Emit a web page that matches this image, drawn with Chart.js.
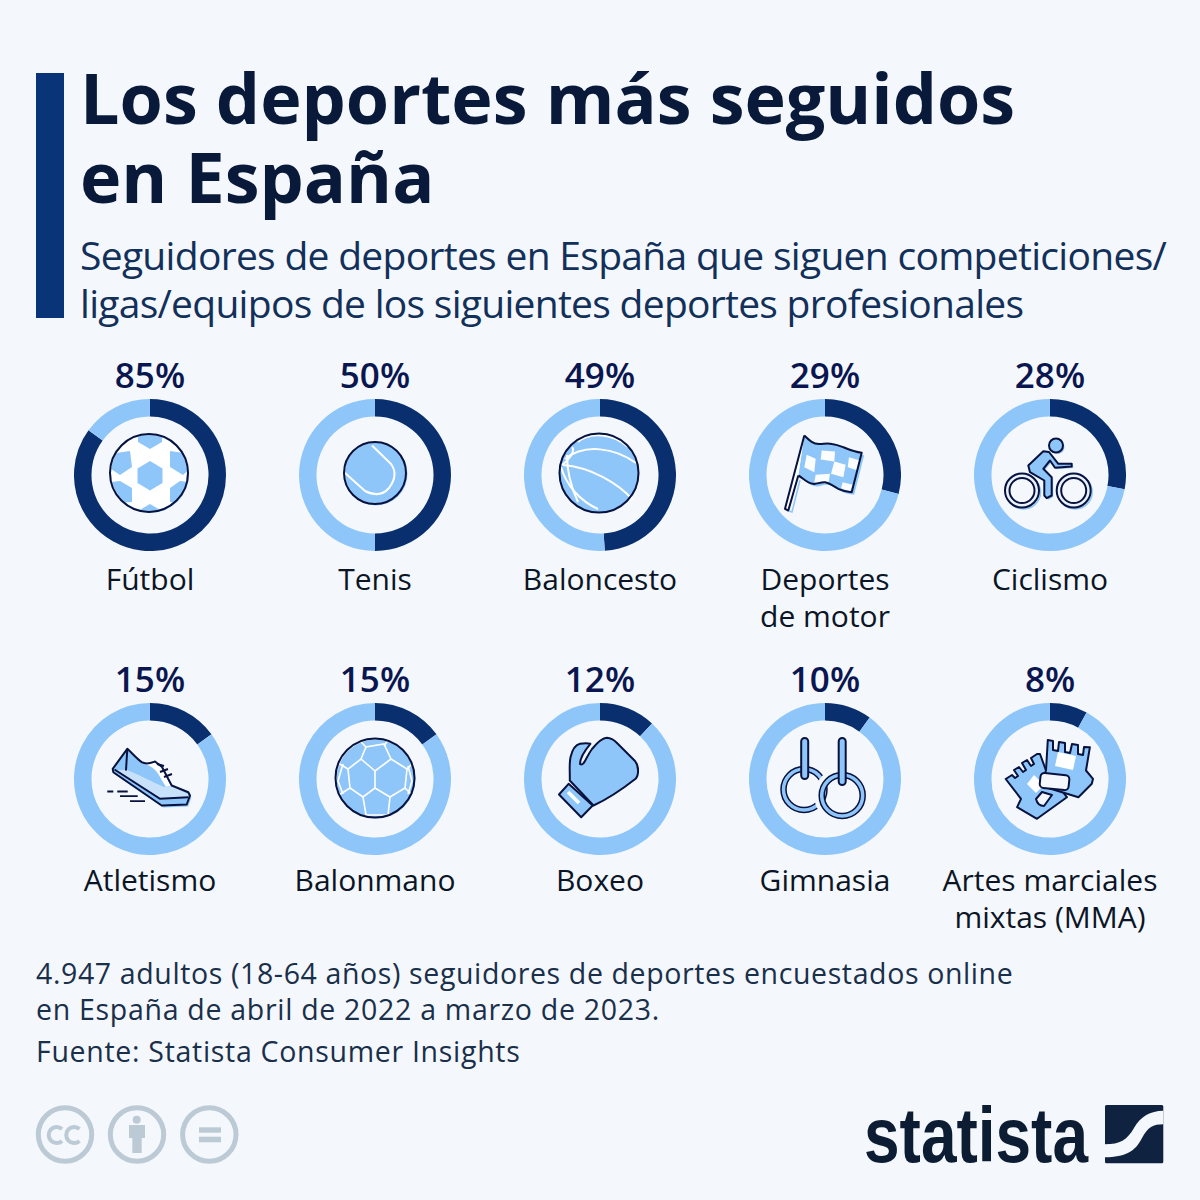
<!DOCTYPE html>
<html lang="es"><head><meta charset="utf-8">
<script src="https://cdn.jsdelivr.net/npm/chart.js@4"></script>
<style>
html,body{margin:0;padding:0;background:#f4f8fc}
#page{position:relative;width:1200px;height:1200px;overflow:hidden;background:#f4f8fc;font-family:"Open Sans",sans-serif}
.t{position:absolute;white-space:nowrap}
.c{position:absolute;text-align:center;width:224px;white-space:nowrap}
canvas{position:absolute}
svg{position:absolute;overflow:visible}
</style></head><body><div id="page"></div>
<script>
const categories=["Fútbol","Tenis","Baloncesto","Deportes\nde motor","Ciclismo","Atletismo","Balonmano","Boxeo","Gimnasia","Artes marciales\nmixtas (MMA)"];
const shares=[85,50,49,29,28,15,15,12,10,8];
const colX=[150,375,600,825,1050];
const rowY=[474.5,778.5];
const DARK="#0a2f6e",LIGHT="#8fc6f9",INK="#08123f",BG="#f4f8fc";
const page=document.getElementById('page');
function txt(s,x,y,size,weight,color,ls){const d=document.createElement('div');d.className='t';d.textContent=s;
 d.style.cssText+=`left:${x}px;top:${y+size*0.1}px;font-size:${size}px;line-height:${size*1.1}px;font-weight:${weight};color:${color};letter-spacing:${ls||0}px`;page.appendChild(d);return d}
const bar=document.createElement('div');bar.style.cssText='position:absolute;left:36px;top:73px;width:28px;height:245px;background:#0a3478';page.appendChild(bar);
txt("Los deportes más seguidos",80,52,70,700,"#08193a",0);
txt("en España",80,131,70,700,"#08193a",0);
txt("Seguidores de deportes en España que siguen competiciones/",80,229.7,39,400,"#12305a",-0.7);
txt("ligas/equipos de los siguientes deportes profesionales",80,277.7,39,400,"#12305a",-0.72);
txt("4.947 adultos (18-64 años) seguidores de deportes encuestados online",36,955.3,28.5,400,"#1a2f4a",0.62);
txt("en España de abril de 2022 a marzo de 2023.",36,991.3,28.5,400,"#1a2f4a",0.7);
txt("Fuente: Statista Consumer Insights",36,1033.3,28.5,400,"#1a2f4a",0.7);

const shoeP="M-22.7 -30.2C-18 -26 -13 -20 -8.3 -16.8C-3 -14 1 -16 5 -17.5L12 -12L21.7 6.5L38.3 13.2L40 16.5L36.7 25.5L11.7 26.5L-36.7 -6.8L-37.3 -10.2Z";
const flagP="M-20.7 -39.5C-15 -34 -12 -31 -6 -31C-1 -31 3 -32 7 -31C13 -30 15 -29 19 -27.5C25 -25 30 -23 36.7 -22.2L26.7 17.2C21 17 17 15.5 13.3 13.8C8 11 5 8 0 7.2C-5 6.8 -8 9.5 -12 8.8C-18 8 -22 3 -26.7 0.5";
const bodyP="M-6.7 -23.8L-1 -23L8.3 -11.2L21.7 -11.2L21.7 -8.5L5 -7.2L0 -14.5L-6.7 -6.2L1.7 2.2V20.5L-3.3 23.2L-5.7 20.5V5.5L-20 -2.8L-21.7 -9.5Z";
const icons=[
`<defs><clipPath id="b0"><circle cx="-1" cy="-2" r="38"/></clipPath></defs><circle cx="0" cy="-1" r="39" fill="${LIGHT}"/><circle cx="-1" cy="-2" r="38" fill="#fff"/><g clip-path="url(#b0)" fill="${LIGHT}"><path d="M0 -14L12.5 -6.5V8L0 15.5L-12.5 8V-6.5Z"/><path d="M-12 -40H12L12 -33L0 -26L-12 -33Z"/><path d="M-12 36L0 29L12 36V44H-12Z"/><path d="M-40 -21L-20 -24L-18 -8L-30 0L-42 -8Z"/><path d="M20 -24L40 -21L42 -8L33 0L20 -8Z"/><path d="M-40 7L-30 6L-18 13V27L-32 28Z"/><path d="M20 13L30 6L40 7L36 28L20 27Z"/></g><circle cx="-1" cy="-2" r="39" fill="none" stroke="${INK}" stroke-width="2"/>`,
`<circle cx="1" cy="-1" r="31.5" fill="${LIGHT}"/><path d="M-3 -29.5L16 -11C22 -3 20 5 14 13C8 20 0 21 -10 16L-30 -2" fill="none" stroke="#fff" stroke-width="2"/><circle cx="0" cy="-2" r="31" fill="none" stroke="${INK}" stroke-width="2"/>`,
`<circle cx="-1" cy="-2" r="39.5" fill="${LIGHT}"/><g fill="none" stroke="#fff" stroke-width="2"><path d="M-22 -33C-10 -44 14 -41 28 -28"/><path d="M-35 -16C-15 -32 15 -27 36 -12"/><path d="M-37 -10C-10 -8 18 8 33 25"/><path d="M-39 -8C-34 10 -20 26 -2 34"/><path d="M-33 -20C-33 -6 -30 10 -22 27"/><path d="M-28 -28C-24 -24 -32 -14 -38 -10"/></g><circle cx="-1" cy="-2" r="39.5" fill="none" stroke="${INK}" stroke-width="2"/>`,
`<path d="${flagP}Z" fill="${LIGHT}" transform="translate(2.5 2.5)"/><path d="${flagP}Z" fill="${LIGHT}"/>
<g fill="#fbfdff"><path d="M-18.3 -20.2L-9.3 -16.2L-10.7 -2.8L-20.7 -7.8Z"/><path d="M-3.3 -24.5L10 -23.5L9.3 -13.5L-4.3 -15.5Z"/><path d="M9.3 -13.5L20.7 -10.2L18.3 2.2L6 -1.2Z"/><path d="M24 -17.8L35 -14.5L32.7 -4.5L22.7 -7.8Z"/><path d="M-9.3 -0.2L5 -1.2L3.3 8.8L-10.7 7.2Z"/><path d="M17.7 7.2L27.7 9.8L25 16.5L16 13.2Z"/></g>
<path d="${flagP}" fill="none" stroke="${INK}" stroke-width="2" stroke-linejoin="round"/><path d="M-20.7 -39.5L-40 33.8L-36.7 35.5L-26.7 0.5" fill="#fff" stroke="${INK}" stroke-width="2" stroke-linejoin="round"/><path d="M-36 36L-33 37L-25 5" fill="none" stroke="${LIGHT}" stroke-width="1.5"/>`,
`<g fill="#cfe5fb" stroke="${LIGHT}" stroke-width="1.5" transform="translate(1.5 1.5)"><circle cx="-28" cy="15.5" r="17"/><circle cx="23.7" cy="15.5" r="17"/></g><path d="${bodyP}" fill="${LIGHT}" transform="translate(1.5 1.5)"/><circle cx="7.5" cy="-28" r="7" fill="${LIGHT}"/><g fill="${LIGHT}" stroke="${INK}" stroke-width="2" stroke-linejoin="round"><circle cx="6" cy="-29.5" r="7"/><path d="${bodyP}"/></g><g fill="#eaf3fc" stroke="${INK}" stroke-width="2"><circle cx="-28" cy="15.5" r="17"/><circle cx="23.7" cy="15.5" r="17"/></g><g fill="${BG}" stroke="${INK}" stroke-width="2"><circle cx="-28" cy="15.5" r="12.5"/><circle cx="23.7" cy="15.5" r="12.5"/></g>`,
`<path d="${shoeP}" fill="${LIGHT}" transform="translate(1.5 2)"/><path d="${shoeP}" fill="${LIGHT}"/><path d="M5 -17L12 -12L21.7 6.5L16 8L10 -2C7 -8 2 -13 -5 -15Z" fill="#fff"/><path d="M-35 -9L10 19.8L38 18L38 15L22 7L14 8C0 2 -10 -4 -23 -9Z" fill="#c7e1fb"/><path d="${shoeP}" fill="none" stroke="${INK}" stroke-width="2" stroke-linejoin="round"/><g fill="none" stroke="${INK}" stroke-width="2"><path d="M-35.5 -9.5L10 19.8L38.3 18.2"/><path d="M-22.7 -30.2L-24 -8.5"/><path d="M7 -15L14 -13M10 -7L18 -10M14 -2L22 -5"/></g><g stroke="${INK}" stroke-width="1.8"><path d="M-42.7 12.5H-36.7M-32.7 12.5H-22.3M-30 17.2H-12.3M-20 22.2H-5"/></g>`,
`<circle cx="1" cy="0" r="39.5" fill="${LIGHT}"/><g fill="none" stroke="#fff" stroke-width="1.6"><path d="M0 -8L-14 -20L-27 -10L-25 9L-12 18L0 9L15 18L30 9L32 -10L16 -20Z"/><path d="M0 -8V9"/><path d="M-14 -20L-9 -32L9 -35L16 -20"/><path d="M-9 -32L-15 -38M9 -33L13 -39"/><path d="M-27 -10L-37 -16M32 -10L38 -16M-25 9L-36 16M30 9L37 16"/><path d="M-12 18L-9 36H13L15 18"/><path d="M-32 -15L-37 2L-32 15M33 -13L37 2L33 15M-9 36L-14 40M13 36L17 40"/></g><circle cx="0" cy="-1" r="39.5" fill="none" stroke="${INK}" stroke-width="2"/>`,
`<path d="M-31.4 4.8L-7.3 26.5L-18.8 38.2L-41 15.5Z" fill="${LIGHT}" stroke="${INK}" stroke-width="2" stroke-linejoin="round"/><path d="M-32 13L-21 24" stroke="#fff" stroke-width="3.5"/><path d="M6.9 -41.2C11 -41 14 -39 17 -36L35 -18C39 -13 39 -4 35.6 -0.2C20 12 8 20 -6.5 26.5L-30.2 1.5C-30 -8 -31 -14 -29.5 -21.8C-28 -28 -26 -34 -20 -35.2C-16 -36 -12 -36 -9.6 -35.2C-14 -30 -20 -22 -20 -15C-16 -12 -14 -22 -8 -30C-3 -36 2 -41 6.9 -41.2Z" fill="${LIGHT}" stroke="${INK}" stroke-width="2" stroke-linejoin="round"/>`,
`<g fill="none"><circle cx="-21" cy="10.5" r="20.5" stroke="${INK}" stroke-width="6.5"/><circle cx="-21" cy="10.5" r="20.5" stroke="${LIGHT}" stroke-width="3.5"/><circle cx="17.2" cy="16.5" r="23.5" stroke="${BG}" stroke-width="9"/><circle cx="17.2" cy="16.5" r="20.5" stroke="${INK}" stroke-width="6.5"/><circle cx="17.2" cy="16.5" r="20.5" stroke="${LIGHT}" stroke-width="3.5"/></g><rect x="-23.8" y="-41" width="7" height="41" rx="3.5" fill="${LIGHT}" stroke="${INK}" stroke-width="2"/><rect x="13.7" y="-41" width="7" height="47" rx="3.5" fill="${LIGHT}" stroke="${INK}" stroke-width="2"/>`,
`<g fill="${LIGHT}" stroke="${INK}" stroke-width="2" stroke-linejoin="round"><path d="M-44.3 0L-38 -4L-35 -1L-32 -3L-36 -9L-31 -12L-27 -7L-24 -9L-28 -16L-23 -19L-19 -13L-16 -15L-19 -21L-13 -25L-10 -25L-4 -8.5L16.9 18.2L-13 39.8L-32.9 28.2L-29 19.8Z"/><path d="M-2.2 -39L3 -38L3 -29L8 -28L9 -37L15 -36L15 -27L20 -26L22 -35L28 -34L28 -25L33 -24L34 -32L39.9 -31.8L36 -8.5L43 -0.2L41.8 4.8L28.4 18.2L-9.9 6.5L-4 -8.5Z"/></g><path d="M8 -27L26 -23L23 -9L5 -13Z" fill="#fff"/><path d="M-16 -4L-6 6L-14 14L-23 5Z" fill="#fff"/><rect x="-9.9" y="-5" width="29" height="15" rx="4" fill="${BG}" stroke="${INK}" stroke-width="2" transform="rotate(6 4 2)"/><path d="M-8 13L2 16L-6 27C-10 27 -13 24 -14 20Z" fill="${BG}" stroke="${INK}" stroke-width="2" stroke-linejoin="round"/>`
];

categories.forEach((name,i)=>{
 const row=Math.floor(i/5),cx=colX[i%5],cy=rowY[row];
 const cv=document.createElement('canvas');cv.width=152;cv.height=152;
 cv.style.cssText=`left:${cx-76}px;top:${cy-76}px;width:152px;height:152px`;page.appendChild(cv);
 new Chart(cv,{type:'doughnut',data:{labels:[name.replace("\n"," "),"Resto"],datasets:[{data:[shares[i],100-shares[i]],backgroundColor:[DARK,LIGHT],borderWidth:0,hoverOffset:0}]},
  options:{responsive:false,animation:false,cutout:'77%',rotation:0,circumference:360,layout:{padding:0},plugins:{legend:{display:false},tooltip:{enabled:false}}}});
 const p=document.createElement('div');p.className='c';p.textContent=shares[i]+'%';
 p.style.cssText+=`left:${cx-112}px;top:${cy-121.5}px;font-size:35px;line-height:44px;font-weight:600;color:#0a1650`;page.appendChild(p);
 name.split("\n").forEach((ln,k)=>{const d=document.createElement('div');d.className='c';d.textContent=ln;
  d.style.cssText+=`left:${cx-112}px;top:${cy+84+k*37+(row?-3:0)}px;font-size:30px;line-height:40px;font-weight:400;color:#0b1526`;page.appendChild(d)});
 const s=document.createElementNS('http://www.w3.org/2000/svg','svg');
 s.setAttribute('width',100);s.setAttribute('height',100);s.setAttribute('viewBox','-50 -50 100 100');
 s.style.left=(cx-50)+'px';s.style.top=(cy-50)+'px';s.innerHTML=icons[i];page.appendChild(s);
});

const foot=document.createElementNS('http://www.w3.org/2000/svg','svg');
foot.setAttribute('width',1200);foot.setAttribute('height',1200);foot.style.left='0';foot.style.top='0';
foot.innerHTML=`<g fill="none" stroke="#bccad6" stroke-width="5"><circle cx="65" cy="1134.5" r="26.7"/><circle cx="137" cy="1134.5" r="26.7"/><circle cx="209.3" cy="1134.5" r="26.7"/></g>
<g fill="none" stroke="#bccad6" stroke-width="4"><path d="M62 1129A8 8 0 1 0 62 1141"/><path d="M79.5 1129A8 8 0 1 0 79.5 1141"/></g>
<g fill="#bccad6"><circle cx="136.7" cy="1119.7" r="4"/><rect x="129" y="1125" width="16" height="13"/><rect x="132.3" y="1130" width="9.4" height="23"/><rect x="199" y="1127.3" width="22" height="5.4"/><rect x="199" y="1136.7" width="22" height="5.6"/></g>
<text x="864" y="1162" font-family="Liberation Sans" font-weight="700" font-size="78" textLength="224" lengthAdjust="spacingAndGlyphs" fill="#0b1c33">statista</text>
<rect x="1105" y="1105" width="58.3" height="58.3" rx="1.5" fill="#0f2340"/>
<path d="M1163.3 1110.7C1150 1111 1141 1116 1134 1128C1127 1140 1120 1144.3 1105 1144.3V1157.3C1125 1157 1135 1152 1142 1138C1148 1127 1153 1124.3 1163.3 1124.3Z" fill="#f4f8fc"/>`;
page.appendChild(foot);
</script></body></html>
